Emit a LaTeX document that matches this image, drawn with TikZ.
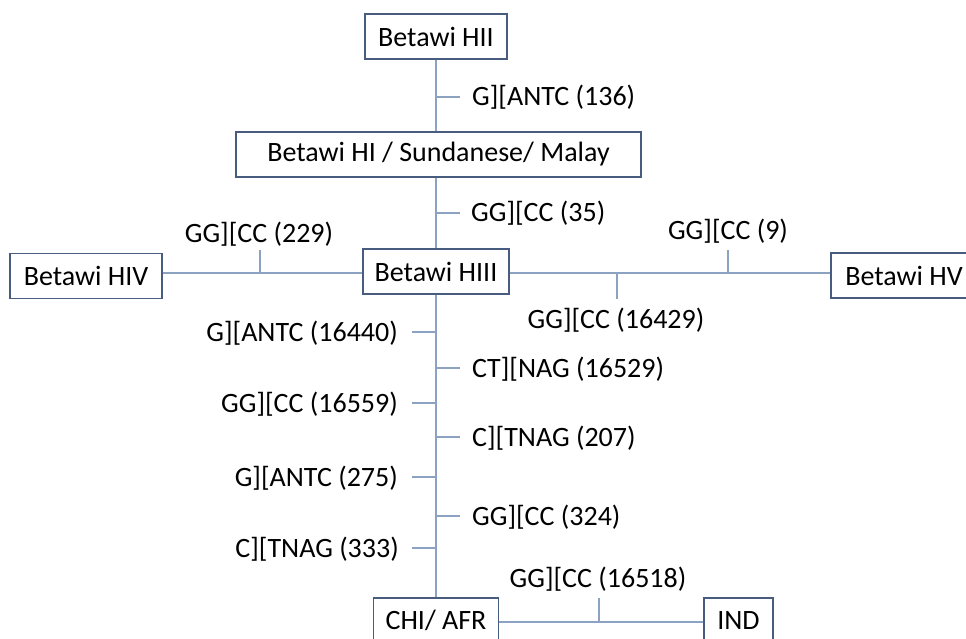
\documentclass[tikz,border=0pt]{standalone}
\usepackage{fontspec}
\setmainfont{Carlito}
\definecolor{boxline}{RGB}{72,92,128}
\definecolor{linkline}{RGB}{140,162,194}
\tikzset{
  hap/.style={draw=boxline, line width=1.3pt, fill=white, inner sep=0pt,
    minimum height=45pt, font=\fontsize{28}{33}\selectfont},
  link/.style={draw=linkline, line width=1.1pt},
  mut/.style={inner sep=0pt, font=\fontsize{28}{33}\selectfont},
}
\begin{document}
\begin{tikzpicture}[x=1pt, y=-1pt]
\useasboundingbox (0,0) rectangle (966,639);

% haplogroup boxes
\node[hap, minimum width=142pt] (hii)  at (436,36.5)  {Betawi HII};
\node[hap, minimum width=405pt] (hi)   at (438.5,154.5) {Betawi HI / Sundanese/ Malay};
\node[hap, minimum width=146pt] (hiii) at (436,271.5) {Betawi HIII};
\node[hap, minimum width=152pt] (hiv)  at (86,276)    {Betawi HIV};
\node[hap, minimum width=146pt] (hv)   at (904,275.5) {Betawi HV};
\node[hap, minimum width=125pt] (chi)  at (436,620.5) {CHI/ AFR};
\node[hap, minimum width=69pt]  (ind)  at (738.5,620.5) {IND};

% main horizontal levels
\coordinate (hrow) at (0,273);
\coordinate (brow) at (0,622);

% trunk and branches
\draw[link] (hii.south) -- (hii.south |- hi.north);
\draw[link] (hii.south |- hi.south) -- (hiii.north);
\draw[link] (hiii.south) -- (chi.north);
\draw[link] (hiv.east |- hrow) -- (hiii.west |- hrow);
\draw[link] (hiii.east |- hrow) -- (hv.west |- hrow);
\draw[link] (chi.east |- brow) -- (ind.west |- brow);

% mutation ticks on the trunk (right side)
\foreach \y/\n in {97/t136, 213/t35, 368/t16529, 437/t207, 516/t324}{
  \coordinate (\n a) at (436,\y);
  \coordinate (\n b) at (460,\y);
  \draw[link] (\n a) -- (\n b);
}
% mutation ticks on the trunk (left side)
\foreach \y/\n in {332/t16440, 403/t16559, 477/t275, 548/t333}{
  \coordinate (\n a) at (436,\y);
  \coordinate (\n b) at (412,\y);
  \draw[link] (\n a) -- (\n b);
}
% ticks on the horizontal branches
\coordinate (t229a) at (260,273);   \coordinate (t229b) at (260,250);
\coordinate (t9a) at (728,273);     \coordinate (t9b) at (728,250);
\coordinate (t16429a) at (617,273); \coordinate (t16429b) at (617,299);
\coordinate (t16518a) at (599,622); \coordinate (t16518b) at (599,598);
\foreach \n in {t229, t9, t16429, t16518}
  \draw[link] (\n a) -- (\n b);

% mutation labels
\node[mut, anchor=base west] (m136)   at (472,106) {G][ANTC (136)};
\node[mut, anchor=base west] (m35)    at (471,222) {GG][CC (35)};
\node[mut, anchor=base west] (m16529) at (472,377) {CT][NAG (16529)};
\node[mut, anchor=base west] (m207)   at (472,446) {C][TNAG (207)};
\node[mut, anchor=base west] (m324)   at (472,525) {GG][CC (324)};
\node[mut, anchor=base east] (m16440) at (398,341) {G][ANTC (16440)};
\node[mut, anchor=base east] (m16559) at (398,412) {GG][CC (16559)};
\node[mut, anchor=base east] (m275)   at (398,486) {G][ANTC (275)};
\node[mut, anchor=base east] (m333)   at (399,557) {C][TNAG (333)};
\node[mut, anchor=base] (m229)   at (259,242) {GG][CC (229)};
\node[mut, anchor=base] (m9)     at (728,239) {GG][CC (9)};
\node[mut, anchor=base] (m16429) at (616,328) {GG][CC (16429)};
\node[mut, anchor=base] (m16518) at (598,587) {GG][CC (16518)};
\end{tikzpicture}
\end{document}
